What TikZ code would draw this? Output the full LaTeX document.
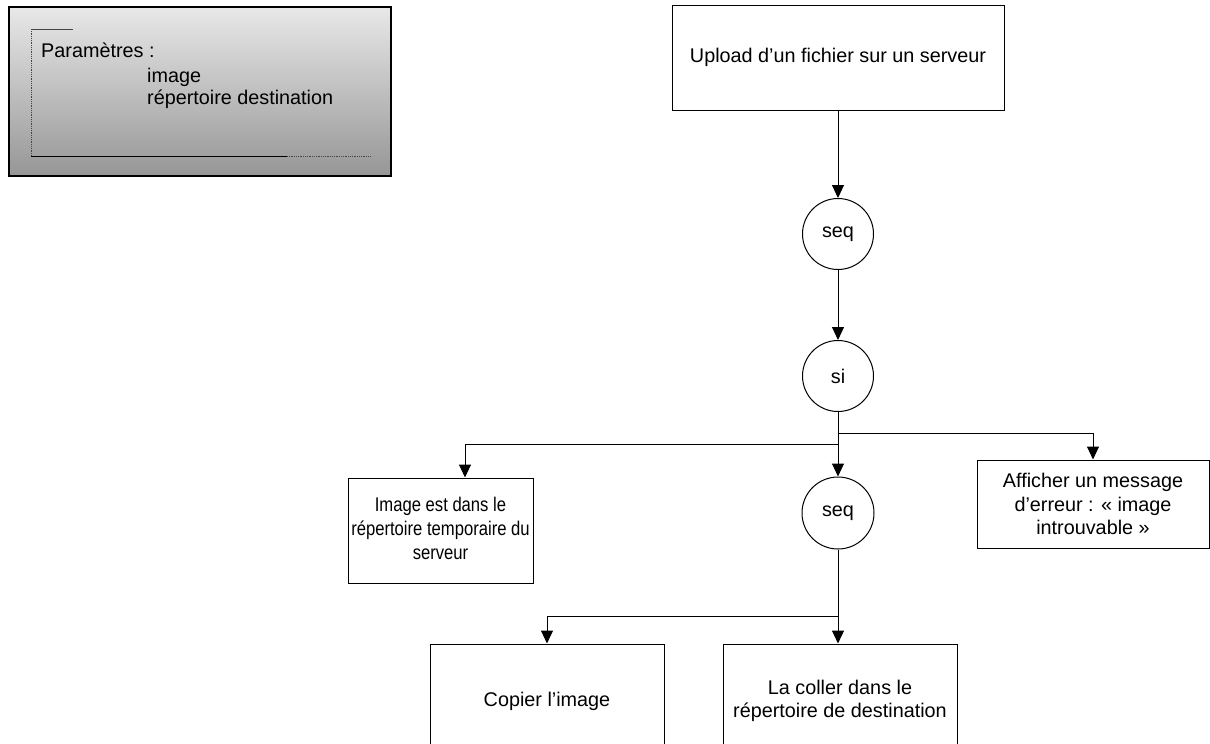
\documentclass[tikz,border=0pt]{standalone}
\usepackage{fontspec}
\setmainfont{Liberation Sans}
\usetikzlibrary{arrows.meta}
\definecolor{ptop}{RGB}{232,232,232}
\definecolor{pbot}{RGB}{150,150,150}
\definecolor{inner}{RGB}{70,70,70}
\begin{document}
\begin{tikzpicture}[x=1pt,y=-1pt,
  every node/.style={font=\fontsize{19.8}{23.5}\selectfont, inner sep=0pt},
  box/.style={draw, line width=1pt, align=center},
  circ/.style={draw, circle, line width=1pt, minimum size=71pt},
  arr/.style={line width=1pt, -{Triangle[length=13pt,width=12pt]}},
  conn/.style={line width=1pt}]
\useasboundingbox (0,0) rectangle (1210,744);
% parameter box
\node[draw, line width=1.3pt, top color=ptop, bottom color=pbot, minimum width=382pt, minimum height=169pt] (param) at (200,91.5) {};
\node[anchor=base west] (ptitle) at (41,57) {Paramètres :};
\node[anchor=base west] (pimg) at (147,82) {image};
\node[anchor=base west] (prep) at (147,104) {répertoire destination};
\coordinate (i1) at (31,29);
\coordinate (i2) at (73,29);
\coordinate (i3) at (31,156);
\coordinate (i4) at (287,156);
\coordinate (i5) at (370,156);
\draw[inner, line width=0.9pt] (i1) -- (i2);
\draw[inner, line width=0.8pt, densely dotted] (i1) -- (i3);
\draw[black, line width=0.9pt] (i3) -- (i4);
\draw[inner, line width=0.8pt, densely dotted] (i4) -- (i5);
% nodes
\node[box, minimum width=332pt, minimum height=105pt] (upload) at (838,57.5) {Upload d’un fichier sur un serveur};
\node[circ] (seqa) at (838,234) {seq};
\node[circ] (si) at (838,376) {si};
\node[circ, minimum size=72pt] (seqb) at (838,513) {seq};
\node[box, minimum width=185pt, minimum height=105pt] (temp) at (440.5,530.5)
  {\scalebox{0.84}[1]{\begin{tabular}{@{}c@{}}Image est dans le\\[0.5pt]répertoire temporaire du\\[0.5pt]serveur\end{tabular}}};
\node[box, minimum width=232pt, minimum height=88pt] (aff) at (1093,504) {Afficher un message\\d’erreur : « image\\introuvable »};
\node[box, minimum width=234pt, minimum height=114pt] (copy) at (547,701) {Copier l’image};
\node[box, minimum width=234pt, minimum height=114pt] (coller) at (840,701) {La coller dans le\\répertoire de destination};
% connectors
\draw[arr] (upload.south) -- (seqa.north);
\draw[arr] (seqa.south) -- (si.north);
\draw[arr] (si.south) -- (seqb.north);
\coordinate (jr) at (838,433);
\coordinate (jl) at (838,444);
\draw[arr] (jr) -| (aff.north);
\draw[arr] (jl) -| ([xshift=24.5pt]temp.north);
\coordinate (jc) at (838,616);
\draw[arr] (seqb.south) -- (seqb.south |- coller.north);
\draw[arr] (jc) -| (copy.north);
\end{tikzpicture}
\end{document}
